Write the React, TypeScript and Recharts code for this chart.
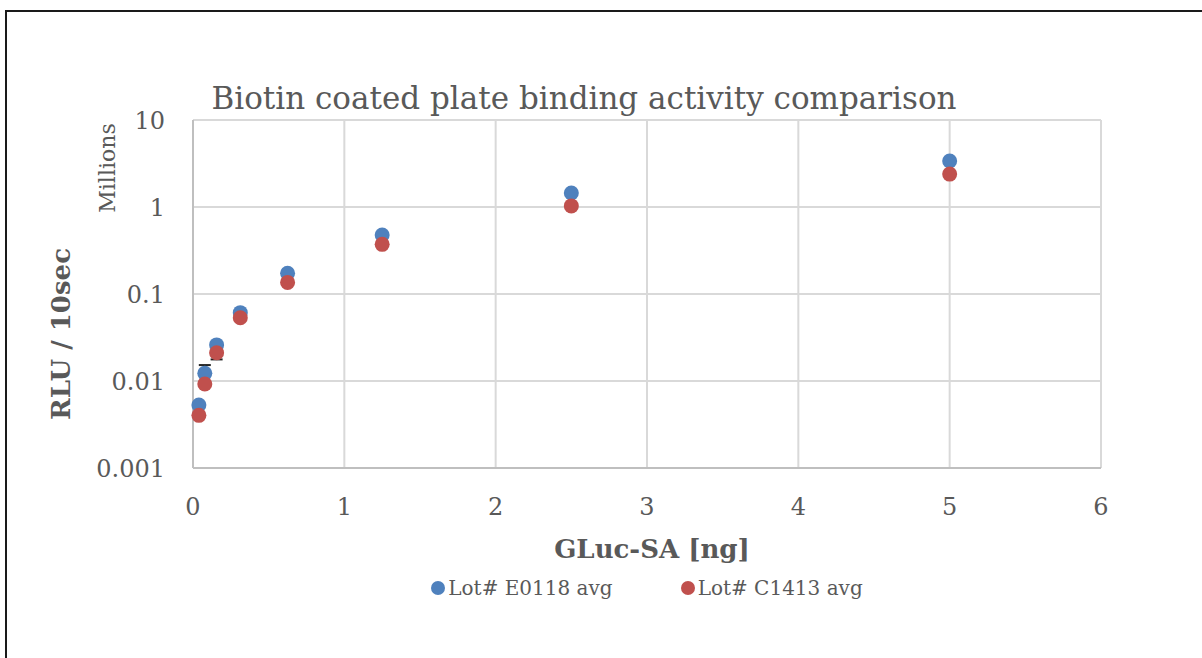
import React from 'react';
import { ScatterChart, Scatter, XAxis, YAxis, CartesianGrid, Legend } from 'recharts';

const concentrations = [0.039, 0.078, 0.156, 0.3125, 0.625, 1.25, 2.5, 5];
const lotE0118 = [0.0053, 0.01225, 0.026, 0.061, 0.173, 0.476, 1.45, 3.38];
const lotC1413 = [0.00403, 0.00924, 0.0211, 0.0534, 0.136, 0.372, 1.03, 2.39];
// visible error-bar caps (the other ends are hidden behind the markers)
const errUpperE0118 = [0, 0.003, 0, 0, 0, 0, 0, 0];
const errLowerC1413 = [0, 0, 0.0034, 0, 0, 0, 0, 0];
const xTicks = [0, 1, 2, 3, 4, 5, 6];
const yTicks = [0.001, 0.01, 0.1, 1, 10];
const yTickLabels = ['0.001', '0.01', '0.1', '1', '10'];
const seriesNames = ['Lot# E0118 avg', 'Lot# C1413 avg'];
const colors = ['#4F81BD', '#C0504D'];

const dataE = concentrations.map((x, i) => ({ x, y: lotE0118[i] }));
const dataC = concentrations.map((x, i) => ({ x, y: lotC1413[i] }));
const capData = [
  ...concentrations.map((x, i) => ({ x, y: lotE0118[i] + errUpperE0118[i], e: errUpperE0118[i] })),
  ...concentrations.map((x, i) => ({ x, y: lotC1413[i] - errLowerC1413[i], e: errLowerC1413[i] })),
].filter((d) => d.e > 0);

const FONT = '"DejaVu Serif", serif';
const TEXT = '#595959';

const Dot = (color: string) => (p: any) => <circle cx={p.cx} cy={p.cy} r={7.5} fill={color} />;
const Cap = (p: any) => (
  <line x1={p.cx - 6} x2={p.cx + 6} y1={p.cy} y2={p.cy} stroke="#262626" strokeWidth={2} />
);

const LegendContent = () => (
  <div style={{ display: 'flex', justifyContent: 'center', gap: 68, fontFamily: FONT, fontSize: 20, color: TEXT, paddingLeft: 92 }}>
    {seriesNames.map((n, i) => (
      <div key={n} style={{ display: 'flex', alignItems: 'center' }}>
        <span style={{ display: 'inline-block', width: 14, height: 14, borderRadius: 7, background: colors[i], marginRight: 3 }} />
        <span>{n}</span>
      </div>
    ))}
  </div>
);

export default function App() {
  return (
    <div style={{ position: 'fixed', left: 0, top: 0, width: 1202, height: 658, background: '#fff', overflow: 'hidden' }}>
      <div style={{ position: 'absolute', left: 5, top: 10, width: 1210, height: 660, border: '2px solid #1a1a1a', boxSizing: 'border-box' }} />
      <ScatterChart width={1202} height={658} margin={{ top: 120, right: 101, bottom: 150, left: 113 }}>
        <CartesianGrid stroke="#D9D9D9" strokeWidth={2} />
        <XAxis
          type="number"
          dataKey="x"
          domain={[0, 6]}
          ticks={xTicks}
          height={40}
          tickSize={0}
          tickMargin={30}
          stroke="#BFBFBF"
          strokeWidth={2}
          tick={{ fill: TEXT, fontFamily: FONT, fontSize: 24 }}
        />
        <YAxis
          type="number"
          dataKey="y"
          scale="log"
          domain={[0.001, 10]}
          ticks={yTicks}
          allowDataOverflow
          width={80}
          tickSize={0}
          tickMargin={28}
          stroke="#BFBFBF"
          strokeWidth={2}
          tickFormatter={(v: number) => yTickLabels[yTicks.indexOf(v)] ?? String(v)}
          tick={{ fill: TEXT, fontFamily: FONT, fontSize: 24 }}
        />
        <Legend
          layout="horizontal"
          verticalAlign="middle"
          align="center"
          content={<LegendContent />}
          wrapperStyle={{ position: 'absolute', top: 576, left: 0, width: 1202 }}
        />
        <Scatter data={capData} shape={Cap} legendType="none" isAnimationActive={false} />
        <Scatter name={seriesNames[0]} data={dataE} fill={colors[0]} shape={Dot(colors[0])} isAnimationActive={false} />
        <Scatter name={seriesNames[1]} data={dataC} fill={colors[1]} shape={Dot(colors[1])} isAnimationActive={false} />
      </ScatterChart>
      <div style={{ position: 'absolute', left: 584, top: 98, transform: 'translate(-50%,-50%)', whiteSpace: 'nowrap', fontFamily: FONT, fontSize: 31, color: TEXT }}>
        Biotin coated plate binding activity comparison
      </div>
      <div style={{ position: 'absolute', left: 107, top: 168, transform: 'translate(-50%,-50%) rotate(-90deg)', whiteSpace: 'nowrap', fontFamily: FONT, fontSize: 22, color: TEXT }}>
        Millions
      </div>
      <div style={{ position: 'absolute', left: 61, top: 334, transform: 'translate(-50%,-50%) rotate(-90deg)', whiteSpace: 'nowrap', fontFamily: FONT, fontSize: 26, fontWeight: 'bold', color: TEXT }}>
        RLU / 10sec
      </div>
      <div style={{ position: 'absolute', left: 652, top: 549, transform: 'translate(-50%,-50%)', whiteSpace: 'nowrap', fontFamily: FONT, fontSize: 26, fontWeight: 'bold', color: TEXT }}>
        GLuc-SA [ng]
      </div>
    </div>
  );
}
